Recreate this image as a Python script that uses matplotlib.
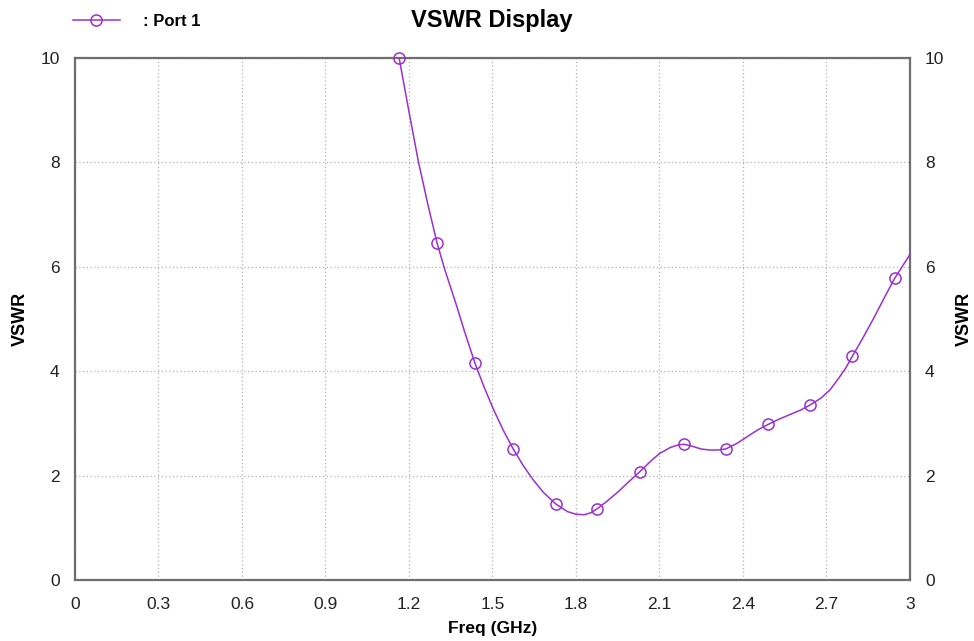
import matplotlib
matplotlib.use("agg")
import matplotlib.pyplot as plt

# swept VSWR of port 1 (freq in GHz)
freq = [1.165, 1.200, 1.234, 1.268, 1.301, 1.330, 1.370, 1.400, 1.437, 1.470,
        1.503, 1.540, 1.575, 1.610, 1.645, 1.683, 1.728, 1.770, 1.800, 1.830,
        1.855, 1.877, 1.910, 1.950, 1.990, 2.030, 2.070, 2.100, 2.140, 2.170,
        2.189, 2.220, 2.250, 2.280, 2.310, 2.339, 2.380, 2.420, 2.455, 2.491,
        2.530, 2.570, 2.610, 2.641, 2.680, 2.713, 2.740, 2.770, 2.794, 2.830,
        2.869, 2.910, 2.946, 2.975, 3.000]
vswr = [10.0, 8.98, 8.02, 7.20, 6.46, 5.93, 5.28, 4.76, 4.16, 3.70,
        3.28, 2.86, 2.51, 2.20, 1.93, 1.68, 1.456, 1.31, 1.26, 1.25,
        1.29, 1.366, 1.50, 1.68, 1.88, 2.075, 2.28, 2.42, 2.54, 2.59,
        2.60, 2.56, 2.51, 2.49, 2.49, 2.51, 2.62, 2.76, 2.88, 2.98,
        3.08, 3.17, 3.26, 3.35, 3.48, 3.64, 3.83, 4.06, 4.29, 4.62,
        5.00, 5.42, 5.78, 6.02, 6.23]
# sample points that get a circle marker
marker_idx = [0, 4, 8, 12, 16, 21, 25, 30, 35, 39, 43, 48, 52]

x_ticks = [0, 0.3, 0.6, 0.9, 1.2, 1.5, 1.8, 2.1, 2.4, 2.7, 3]
x_labels = ["0", "0.3", "0.6", "0.9", "1.2", "1.5", "1.8", "2.1", "2.4", "2.7", "3"]
y_ticks = [0, 2, 4, 6, 8, 10]

LINE = "#9b30d0"
FRAME = "#6e6e6e"
sans = ["Liberation Sans", "DejaVu Sans"]

fig = plt.figure(figsize=(9.74, 6.41), dpi=100)
ax = fig.add_axes([0.077, 0.0952, 0.857, 0.8143])

ax.plot(freq, vswr, color=LINE, linewidth=1.1, marker="o", markersize=8,
        markerfacecolor="none", markeredgecolor=LINE, markeredgewidth=1.1,
        markevery=marker_idx, label=": Port 1", clip_on=False, zorder=3)

ax.set_xlim(0, 3)
ax.set_ylim(0, 10)
ax.set_xticks(x_ticks)
ax.set_xticklabels(x_labels)
ax.set_yticks(y_ticks)
ax.grid(True, color="#b0b0b0", linestyle=(0, (1, 2)), linewidth=0.9)
ax.tick_params(length=0, labelsize=12.5, colors="#222222")
ax.tick_params(axis="x", pad=12)
ax.tick_params(axis="y", pad=11)
for lab in ax.get_xticklabels() + ax.get_yticklabels():
    lab.set_family(sans)
for sp in ax.spines.values():
    sp.set_color(FRAME)
    sp.set_linewidth(1.6)

ax.set_xlabel("Freq (GHz)", family=sans, fontsize=12.5, fontweight="bold", labelpad=7)
ax.set_ylabel("VSWR", family=sans, fontsize=13, fontweight="bold", labelpad=8)

# mirrored scale on the right
ax2 = ax.twinx()
ax2.set_ylim(0, 10)
ax2.set_yticks(y_ticks)
ax2.tick_params(length=0, labelsize=12.5, pad=11, colors="#222222")
for lab in ax2.get_yticklabels():
    lab.set_family(sans)
for sp in ax2.spines.values():
    sp.set_visible(False)
ax2.set_ylabel("VSWR", family=sans, fontsize=13, fontweight="bold", labelpad=8)

fig.text(0.505, 0.968, "VSWR Display", ha="center", va="center",
         family=sans, fontsize=17, fontweight="bold")

ax.legend(loc="center left", bbox_to_anchor=(0.075, 0.967),
          bbox_transform=fig.transFigure, frameon=False, borderpad=0,
          borderaxespad=0, handlelength=2.8, handletextpad=1.4,
          prop={"family": sans, "weight": "bold", "size": 12})

fig.savefig("out.png", dpi=100)
